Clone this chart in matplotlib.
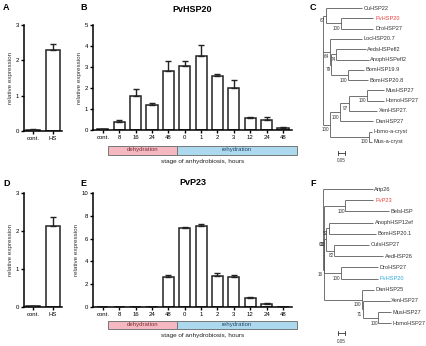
import matplotlib
matplotlib.use("Agg")
import matplotlib.pyplot as plt
from matplotlib.patches import Rectangle
import numpy as np

plt.rcParams['font.family'] = ['Liberation Sans', 'DejaVu Sans']

W, H = 426, 346

# ---------------- data ----------------
hs_cats = ["cont.", "HS"]
hsp20_hs = [0.04, 2.30]
hsp20_hs_err = [0.03, 0.17]
p23_hs = [0.02, 2.13]
p23_hs_err = [0.01, 0.25]

stage_cats = ["cont.", "8", "16", "24", "48", "0", "1", "2", "3", "12", "24", "48"]
hsp20_stage = [0.03, 0.37, 1.62, 1.17, 2.80, 3.03, 3.52, 2.58, 2.02, 0.55, 0.48, 0.10]
hsp20_stage_err = [0.02, 0.10, 0.35, 0.10, 0.47, 0.27, 0.53, 0.08, 0.35, 0.06, 0.13, 0.03]
p23_stage = [0.0, 0.0, 0.0, 0.0, 2.65, 6.92, 7.08, 2.72, 2.62, 0.82, 0.29, 0.03]
p23_stage_err = [0.0, 0.0, 0.0, 0.0, 0.20, 0.10, 0.22, 0.22, 0.18, 0.05, 0.03, 0.01]

# trees: leaf = (name, branch_length); internal = (branch_length, bootstrap, [children])
tree_c = (0.0, None, [
    (0.02, "67", [
        ("CuHSP22", 0.26),
        (0.11, "100", [("PvHSP20", 0.23), ("DroHSP27", 0.23)])]),
    (0.05, "64", [
        ("LocHSP20.7", 0.23),
        (0.01, "79", [
            (0.035, "74", [("AedsHSPefl2", 0.21), ("AnophHSPefl2", 0.23)]),
            (0.12, "100", [("BomHSP19.9", 0.11), ("BomHSP20.8", 0.14)])])]),
    (0.05, "100", [
        (0.07, "100", [
            (0.065, "97", [
                (0.13, "100", [("MusHSP27", 0.12), ("HomoHSP27", 0.12)]),
                ("XenHSP27.", 0.20)]),
            ("DanHSP27", 0.24)]),
        (0.28, "100", [("Homo-a-cryst", 0.02), ("Mus-a-cryst", 0.02)])])])

tree_f = (0.0, None, [
    ("Artp26", 0.355),
    (0.005, "16", [
        (0.005, "63", [
            (0.15, "100", [("PvP23", 0.20), ("BelsHSP", 0.31)]),
            (0.01, "23", [
                (0.02, "52", [("AnophHSP12ef", 0.32), ("BomHSP20.1", 0.335)]),
                (0.06, "82", [("CulsHSP27", 0.25), ("AedHSP26", 0.35)])]),
            (0.12, "100", [("DroHSP27", 0.26), ("PvHSP20", 0.26)])]),
        (0.27, "100", [
            ("DanHSP25", 0.09),
            (0.01, "71", [
                ("XenHSP27", 0.19),
                (0.11, "100", [("MusHSP27", 0.09), ("HomoHSP27", 0.09)])])])])])

leaf_colors_c = {"PvHSP20": "#e8413c"}
leaf_colors_f = {"PvP23": "#e8413c", "PvHSP20": "#2aa9df"}
scale_len = 0.05

# ---------------- figure ----------------
fig = plt.figure(figsize=(W / 100, H / 100), dpi=100)


def px_axes(x0, y0, x1, y1):
    return fig.add_axes([x0 / W, 1 - y1 / H, (x1 - x0) / W, (y1 - y0) / H])


def style(ax):
    for s in ("top", "right"):
        ax.spines[s].set_visible(False)
    for s in ("left", "bottom"):
        ax.spines[s].set_linewidth(1.1)
    ax.tick_params(axis="both", length=2, width=1, labelsize=4.3, pad=1.5)


def barpanel(ax, cats, vals, errs, ymax, step, xl, xr):
    x = np.arange(len(cats))
    ax.bar(x, vals, width=0.68, color="white", edgecolor="#222222", linewidth=1.1, zorder=2)
    ax.errorbar(x, vals, yerr=[np.zeros(len(errs)), errs], fmt="none", ecolor="#222222",
                elinewidth=1.0, capsize=2.2, capthick=1.0, zorder=3)
    ax.set_xlim(xl, xr)
    ax.set_ylim(0, ymax)
    ax.set_yticks(np.arange(0, ymax + 0.001, step))
    ax.set_xticks(x)
    ax.set_xticklabels(cats)
    ax.set_ylabel("relative expression", fontsize=4.5, labelpad=2, color="#333333")
    style(ax)


def stage_boxes(ax, y_frac, h_frac, text_frac):
    t = ax.get_xaxis_transform()
    ax.add_patch(Rectangle((0.3, y_frac), 4.5 - 0.3, h_frac, transform=t, clip_on=False,
                           facecolor="#f5b8c0", edgecolor="#777777", linewidth=0.7))
    ax.add_patch(Rectangle((4.5, y_frac), 11.86 - 4.5, h_frac, transform=t, clip_on=False,
                           facecolor="#acd9ee", edgecolor="#777777", linewidth=0.7))
    ax.text((0.3 + 4.5) / 2, y_frac + h_frac / 2, "dehydration", transform=t, ha="center",
            va="center", fontsize=4.3, color="#7a3038")
    ax.text((4.5 + 11.86) / 2, y_frac + h_frac / 2, "rehydration", transform=t, ha="center",
            va="center", fontsize=4.3, color="#2a4a6a")
    ax.text((0.3 + 11.86) / 2, text_frac, "stage of anhydrobiosis, hours", transform=t,
            ha="center", va="center", fontsize=4.6, color="#222222")


# Panel A
axA = px_axes(24, 25, 62, 131)
barpanel(axA, hs_cats, hsp20_hs, hsp20_hs_err, 3, 1, -0.45, 1.45)
# Panel B
axB = px_axes(93, 25, 292, 130)
barpanel(axB, stage_cats, hsp20_stage, hsp20_stage_err, 5, 1, -0.6, 11.55)
axB.set_title("PvHSP20", fontsize=6.5, fontweight="bold", pad=9)
stage_boxes(axB, (130 - 154.5) / 105, 9 / 105, (130 - 162) / 105)
# Panel D
axD = px_axes(24, 193, 62, 307)
barpanel(axD, hs_cats, p23_hs, p23_hs_err, 3, 1, -0.45, 1.45)
# Panel E
axE = px_axes(93, 193, 292, 307)
barpanel(axE, stage_cats, p23_stage, p23_stage_err, 10, 2, -0.6, 11.55)
axE.set_title("PvP23", fontsize=6.5, fontweight="bold", pad=6)
stage_boxes(axE, (307 - 328.5) / 114, 8 / 114, (307 - 335) / 114)


# ---------------- trees ----------------
def draw_tree(ax, tree, colors, lc="#5a5a5a"):
    counter = [0]

    def rec(node, x0):
        if isinstance(node[0], str):
            name, bl = node
            x = x0 + bl
            y = counter[0]
            counter[0] += 1
            ax.plot([x0, x], [y, y], color=lc, lw=0.6, solid_capstyle="butt")
            ax.text(x + 0.012, y, name, fontsize=4.1, va="center", ha="left",
                    color=colors.get(name, "#333333"))
            return y
        bl, boot, children = node
        x = x0 + bl
        ys = [rec(c, x) for c in children]
        y = (ys[0] + ys[-1]) / 2
        ax.plot([x, x], [ys[0], ys[-1]], color=lc, lw=0.6, solid_capstyle="butt")
        if bl > 0:
            ax.plot([x0, x], [y, y], color=lc, lw=0.6, solid_capstyle="butt")
        if boot:
            ax.text(x - 0.004, y + 0.25, boot, fontsize=3.3, ha="right", va="top", color="#333333")
        return y

    rec(tree, 0.0)
    return counter[0]


def tree_axes(x0, y0, x1, y1, root_px, first_leaf_px, leaf_step_px, px_per_unit):
    ax = px_axes(x0, y0, x1, y1)
    ax.set_xlim((x0 - root_px) / px_per_unit, (x1 - root_px) / px_per_unit)
    ax.set_ylim((y1 - first_leaf_px) / leaf_step_px, (y0 - first_leaf_px) / leaf_step_px)
    ax.axis("off")
    return ax


ppu = 140.0
axC = tree_axes(318, 0, 426, 172, 323, 8, 10.3, ppu)
draw_tree(axC, tree_c, leaf_colors_c)
sb_y = (153 - 8) / 10.3
sb_x0 = (338 - 323) / ppu
axC.plot([sb_x0, sb_x0 + scale_len], [sb_y, sb_y], color="#333333", lw=0.6)
for xx in (sb_x0, sb_x0 + scale_len):
    axC.plot([xx, xx], [sb_y - 0.2, sb_y + 0.2], color="#333333", lw=0.6)
axC.text(sb_x0 + scale_len / 2, sb_y + 0.5, "0.05", fontsize=3.3, ha="center", va="top", color="#333333")

axF = tree_axes(318, 172, 426, 346, 323, 189, 11.2, ppu)
draw_tree(axF, tree_f, leaf_colors_f)
sb_y = (333 - 189) / 11.2
axF.plot([sb_x0, sb_x0 + scale_len], [sb_y, sb_y], color="#333333", lw=0.6)
for xx in (sb_x0, sb_x0 + scale_len):
    axF.plot([xx, xx], [sb_y - 0.2, sb_y + 0.2], color="#333333", lw=0.6)
axF.text(sb_x0 + scale_len / 2, sb_y + 0.5, "0.05", fontsize=3.3, ha="center", va="top", color="#333333")

# panel letters
for lab, (px, py) in {"A": (3, 8), "B": (80, 8), "C": (310, 8),
                      "D": (3, 183), "E": (80, 183), "F": (310, 183)}.items():
    fig.text(px / W, 1 - py / H, lab, fontsize=6.5, fontweight="bold", ha="left", va="center")

fig.savefig("out.png", dpi=100)
